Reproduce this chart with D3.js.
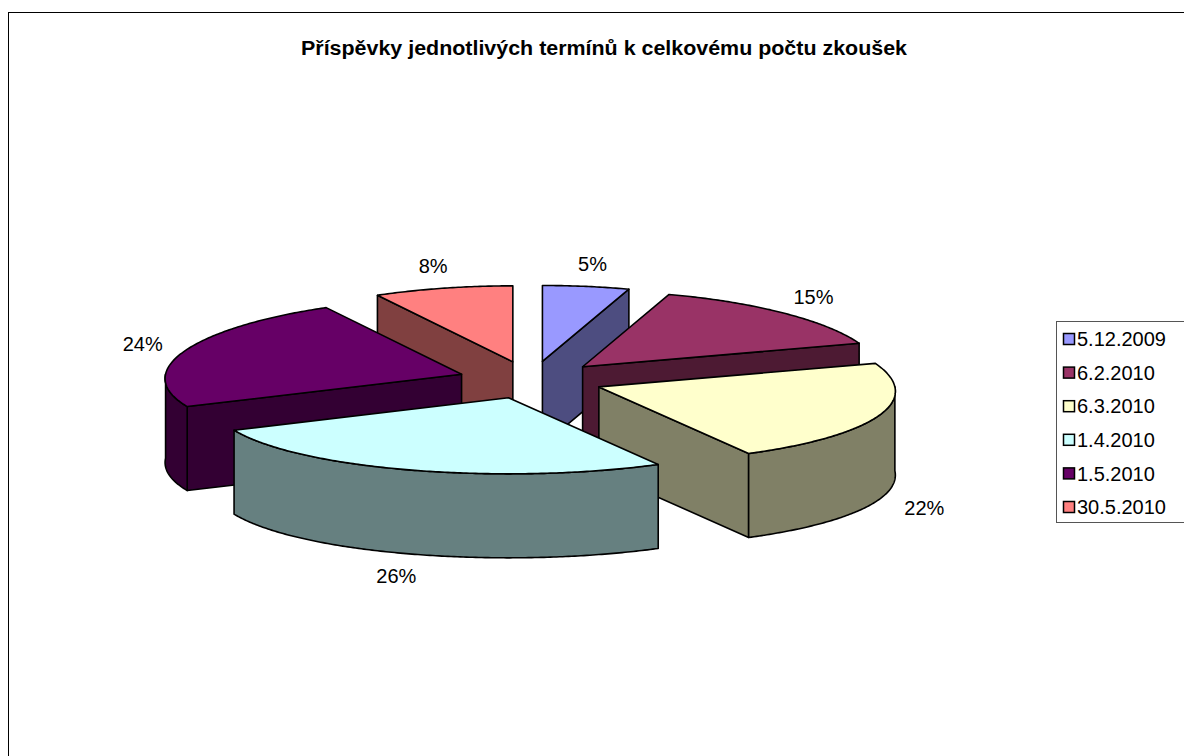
<!DOCTYPE html>
<html>
<head>
<meta charset="utf-8">
<script src="https://cdn.jsdelivr.net/npm/d3@7"></script>
<style>
  body { margin: 0; background: #fff; }
  svg { display: block; font-family: "Liberation Sans", Arial, sans-serif; }
</style>
</head>
<body>
<div id="chart"></div>
<script>
// data
var categories = ["5.12.2009", "6.2.2010", "6.3.2010", "1.4.2010", "1.5.2010", "30.5.2010"];
var values = [5, 15, 22, 26, 24, 8];
var palette = ["#9999FF", "#993366", "#FFFFCC", "#CCFFFF", "#660066", "#FF8080"];
var title = "Příspěvky jednotlivých termínů k celkovému počtu zkoušek";

var width = 1184,
    height = 756;

var svg = d3.select("#chart")
  .append("svg")
  .attr("width", width)
  .attr("height", height);

// chart frame (runs off the right and bottom)
svg.append("rect")
  .attr("x", 8.5).attr("y", 12.5)
  .attr("width", 1200).attr("height", 800)
  .attr("fill", "#fff")
  .attr("stroke", "#000")
  .attr("stroke-width", 1);

svg.append("text")
  .attr("x", 604).attr("y", 55)
  .attr("text-anchor", "middle")
  .attr("font-weight", "bold")
  .attr("font-size", 19.5)
  .attr("textLength", 606)
  .attr("lengthAdjust", "spacingAndGlyphs")
  .text(title);

// 3d pie geometry
var cx = 531, cy = 380,
    rx = 296, ry = 76,
    persp = 17,      // front of the pie drawn a bit wider than the back
    depth = 84,
    explode = 73;
var tilt = ry / rx;

var color = d3.scaleOrdinal().domain(categories).range(palette);
function shade(c) {
  var r = d3.rgb(c);
  return d3.rgb(r.r * 0.5, r.g * 0.5, r.b * 0.5).formatHex();
}

var pie = d3.pie().sort(null).value(function(d){ return d; })
  .startAngle(0).endAngle(2 * Math.PI);
var arcs = pie(values);
arcs.forEach(function(d, i){
  d.name = categories[i];
  d.mid = (d.startAngle + d.endAngle) / 2;
  d.ox = cx + explode * Math.sin(d.mid);
  d.oy = cy - explode * tilt * Math.cos(d.mid);
});

function pt(d, a, z) {
  return [d.ox + (rx - persp * Math.cos(a)) * Math.sin(a), d.oy - ry * Math.cos(a) + z];
}

function rim(d, a0, a1, z) {
  var n = Math.max(2, Math.ceil(Math.abs(a1 - a0) / 0.01));
  return d3.range(n + 1).map(function(i){ return pt(d, a0 + (a1 - a0) * i / n, z); });
}

var line = d3.line().curve(d3.curveLinearClosed);

function topPath(d) {
  return line([[d.ox, d.oy]].concat(rim(d, d.startAngle, d.endAngle, 0)));
}

function radialWall(d, a) {
  return line([[d.ox, d.oy], pt(d, a, 0), pt(d, a, depth), [d.ox, d.oy + depth]]);
}

function outerWall(d) {
  var s = Math.max(d.startAngle, Math.PI / 2),
      e = Math.min(d.endAngle, 3 * Math.PI / 2);
  if (s >= e) return null;
  return line(rim(d, s, e, 0).concat(rim(d, e, s, depth)));
}

// back to front
var order = arcs.slice().sort(function(a, b){
  return -Math.cos(a.mid) - -Math.cos(b.mid);
});

var gPie = svg.append("g");
order.forEach(function(d){
  var g = gPie.append("g").attr("class", "slice");
  var side = shade(color(d.name));
  var walls = [];
  if (Math.sin(d.startAngle) < -1e-6) walls.push(radialWall(d, d.startAngle));
  if (Math.sin(d.endAngle) > 1e-6) walls.push(radialWall(d, d.endAngle));
  var ow = outerWall(d);
  if (ow) walls.push(ow);
  walls.forEach(function(w){
    g.append("path").attr("d", w)
      .attr("fill", side)
      .attr("stroke", "#000").attr("stroke-width", 1.6)
      .attr("stroke-linejoin", "round");
  });
  g.append("path").attr("d", topPath(d))
    .attr("fill", color(d.name))
    .attr("stroke", "#000").attr("stroke-width", 1.6)
    .attr("stroke-linejoin", "round");
});

// percentage labels
var labelRx = 415, labelPersp = 22, labelRy = 118;
var total = d3.sum(values);
svg.append("g").selectAll("text")
  .data(arcs)
  .enter().append("text")
  .attr("x", function(d){
    return cx + (labelRx - labelPersp * Math.cos(d.mid)) * Math.sin(d.mid);
  })
  .attr("y", function(d){
    var c = Math.cos(d.mid);
    return cy - labelRy * c + (c < 0 ? depth : 0);
  })
  .attr("dy", "0.36em")
  .attr("text-anchor", "middle")
  .attr("font-size", 20)
  .attr("fill", "#000")
  .text(function(d){ return d3.format(".0%")(d.data / total); });

// legend
var legend = svg.append("g");
legend.append("rect")
  .attr("x", 1056.5).attr("y", 321.5)
  .attr("width", 200).attr("height", 201)
  .attr("fill", "#fff")
  .attr("stroke", "#555")
  .attr("stroke-width", 1);

var ly = d3.scalePoint().domain(categories).range([339, 507]);
var items = legend.selectAll(".item")
  .data(categories)
  .enter().append("g")
  .attr("class", "item")
  .attr("transform", function(d){ return "translate(1063," + ly(d) + ")"; });

items.append("rect")
  .attr("x", 0.5).attr("y", -5.5)
  .attr("width", 11).attr("height", 11)
  .attr("fill", function(d){ return color(d); })
  .attr("stroke", "#000").attr("stroke-width", 1.5);

items.append("text")
  .attr("x", 14).attr("y", 0)
  .attr("dy", "0.36em")
  .attr("font-size", 20)
  .text(function(d){ return d; });
</script>
</body>
</html>
